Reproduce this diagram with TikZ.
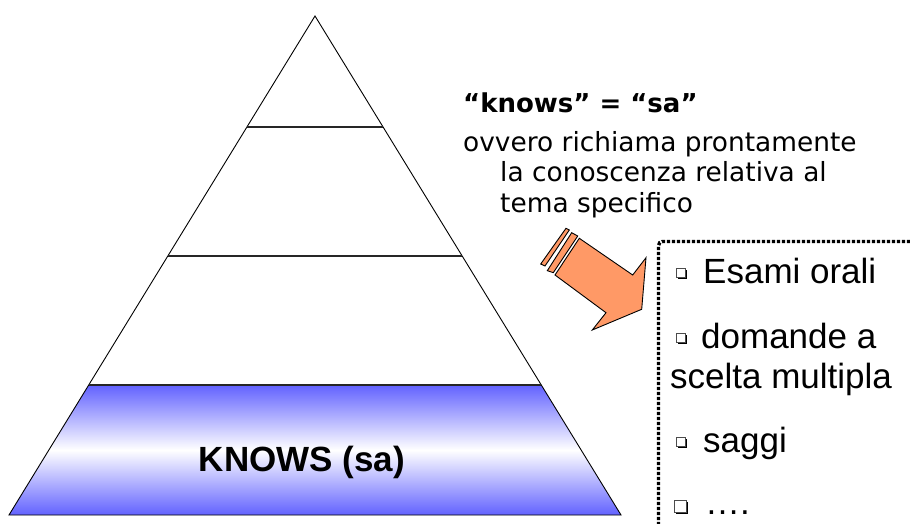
\documentclass[tikz,border=0pt]{standalone}
\usepackage{fontspec}
\setmainfont{Liberation Sans}
\newfontfamily\verd{DejaVu Sans}
\definecolor{blueband}{RGB}{98,98,255}
\definecolor{arrowc}{RGB}{255,153,102}
\tikzset{
  txt/.style={anchor=base west, inner sep=0pt},
  vtxt/.style={txt, font=\verd\fontsize{26.4}{30}\selectfont},
  btxt/.style={txt, font=\fontsize{35}{40}\selectfont},
  level/.style={line width=1.6pt, draw=black!85},
  arrowpart/.style={fill=arrowc, draw=black, line width=0.9pt, line join=miter}
}
\newcommand{\bulletbox}[3]{%
  \fill[black] (#1+1.6,#2+1.6) rectangle (#1+#3+1.6,#2+#3+1.6);
  \filldraw[fill=white, draw=black!70, line width=0.8pt] (#1,#2) rectangle (#1+#3,#2+#3);
}
\begin{document}
\begin{tikzpicture}[x=1pt,y=-1pt]
\useasboundingbox (0,0) rectangle (910,524);
% pyramid
\coordinate (apex) at (315,16);
\coordinate (bl) at (9,515);
\coordinate (br) at (621,515);
\shade[top color=blueband, bottom color=blueband, middle color=white]
  (88.7,385) -- (541.3,385) -- (br) -- (bl) -- cycle;
\draw[line width=0.9pt] (apex) -- (br) -- (bl) -- cycle;
\draw[level] (246.9,127) -- (383.1,127);
\draw[level] (167.8,256) -- (462.2,256);
\draw[level] (88.7,385) -- (541.3,385);
\node[anchor=center, inner sep=0pt, font=\bfseries\fontsize{35}{40}\selectfont] (knows) at (302,462) {KNOWS (sa)};
% explanation text
\node[txt, font=\verd\bfseries\fontsize{26}{30}\selectfont] (t1) at (463,113) {“knows” = “sa”};
\node[vtxt] (t2) at (463,152) {ovvero richiama prontamente};
\node[vtxt] (t3) at (500,181) {la conoscenza relativa al};
\node[vtxt] (t4) at (500,212) {tema specifico};
% arrow
\draw[arrowpart] (566,228.3) -- (569.3,230) -- (545,266) -- (540.7,264) -- cycle;
\draw[arrowpart] (571.7,232.7) -- (577.7,236) -- (553.3,272.7) -- (547.3,270.7) -- cycle;
\draw[arrowpart] (579.3,238.3) -- (632.7,275) -- (646,257.7) -- (641.7,309.3)
  -- (592.3,330) -- (606,312.7) -- (555,275) -- cycle;
% dotted box
\coordinate (boxtr) at (915,241.5);
\coordinate (boxbl) at (658.5,535);
\draw[line width=3.4pt, dash pattern=on 3.2pt off 1.8pt, rounded corners=4pt] (boxtr) -| (boxbl);
% list
\bulletbox{676}{268}{9.5}
\node[btxt] (e1) at (703,283) {Esami orali};
\bulletbox{676}{333}{9.5}
\node[btxt] (e2) at (701,348) {domande a};
\node[btxt] (e3) at (670,388) {scelta multipla};
\bulletbox{676}{437}{9.5}
\node[btxt] (e4) at (703,452) {saggi};
\bulletbox{674.5}{500}{12}
\node[btxt] (e5) at (705,514) {….};
\end{tikzpicture}
\end{document}
